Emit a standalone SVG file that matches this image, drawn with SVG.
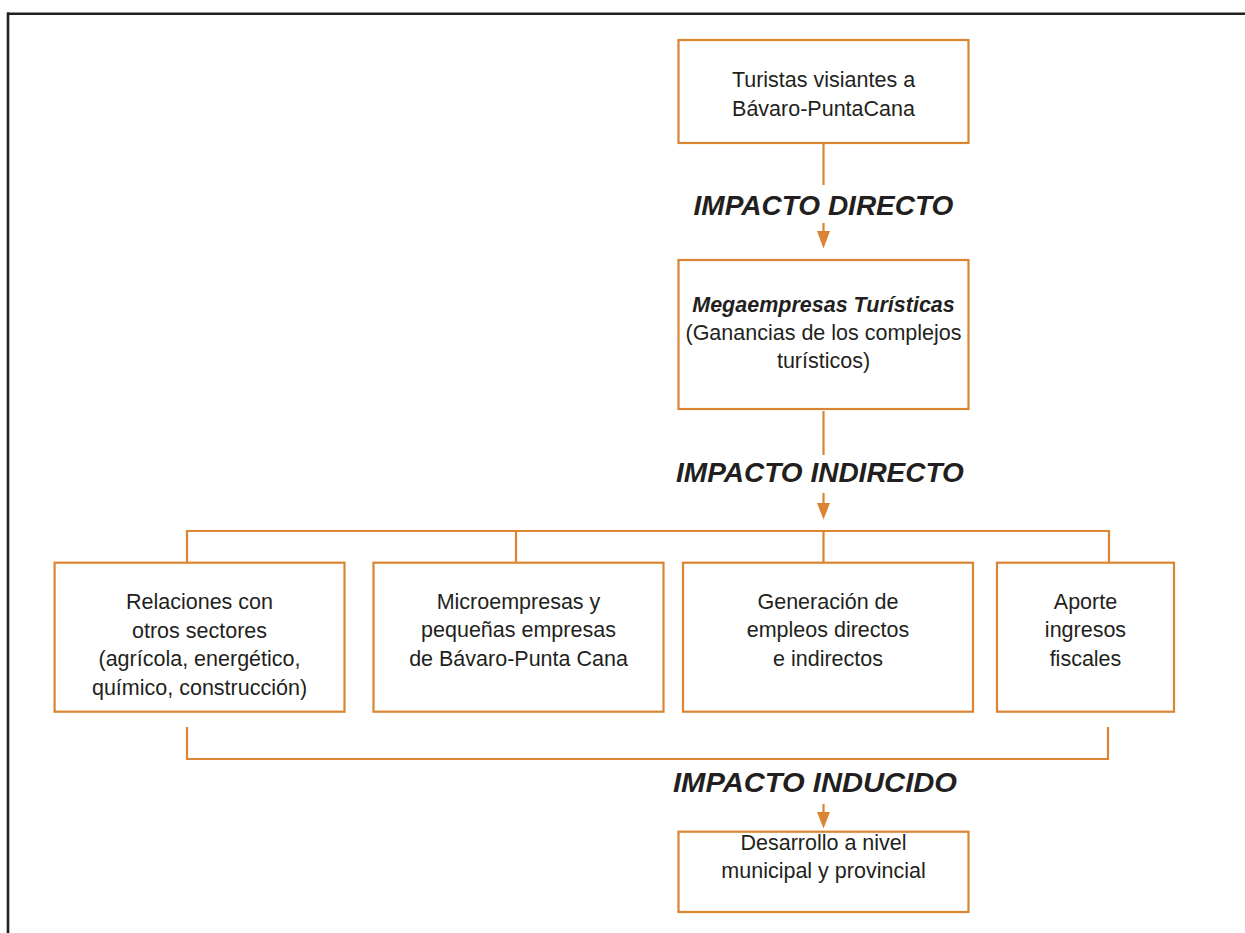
<svg xmlns="http://www.w3.org/2000/svg" width="1245" height="933" viewBox="0 0 1245 933">
<style>
.box{fill:#ffffff;stroke:#db8431;stroke-width:2.2}
.ln{fill:none;stroke:#db8431;stroke-width:2.2}
.t{font-family:"Liberation Sans",Arial,sans-serif;font-size:21.5px;fill:#231f20;text-anchor:middle}
.bi{font-weight:bold;font-style:italic}
.lab{font-family:"Liberation Sans",Arial,sans-serif;font-size:28px;font-weight:bold;font-style:italic;fill:#231f20;text-anchor:middle}
</style>
<g id="frame">
<line x1="7" y1="13.8" x2="1245" y2="13.8" stroke="#231f20" stroke-width="2.5"/>
<line x1="8" y1="12.5" x2="8" y2="933" stroke="#231f20" stroke-width="2.6"/>
</g>
<g id="connectors">
<line class="ln" x1="823.5" y1="143" x2="823.5" y2="185"/>
<line class="ln" x1="823.5" y1="223" x2="823.5" y2="232"/>
<path d="M817,231 L830,231 L823.5,248.5 Z" fill="#db8431"/>
<line class="ln" x1="823.5" y1="411" x2="823.5" y2="455"/>
<line class="ln" x1="823.5" y1="493" x2="823.5" y2="504"/>
<path d="M817,503 L830,503 L823.5,519.5 Z" fill="#db8431"/>
<path class="ln" d="M187,563 V531 H1109 V563 M516,531 V563 M823.5,531 V563"/>
<path class="ln" d="M187,727 V759 H1108 V727"/>
<line class="ln" x1="823.5" y1="804" x2="823.5" y2="813"/>
<path d="M817,812 L830,812 L823.5,828.5 Z" fill="#db8431"/>
</g>
<g id="labels">
<text class="lab" x="823.5" y="215">IMPACTO DIRECTO</text>
<text class="lab" x="820" y="481.5">IMPACTO INDIRECTO</text>
<text class="lab" x="815" y="791.5" textLength="284" lengthAdjust="spacingAndGlyphs">IMPACTO INDUCIDO</text>
</g>
<g id="n-turistas">
<rect class="box" x="678.5" y="40" width="290" height="103"/>
<text class="t" x="823.5" y="86.5">Turistas visiantes a</text>
<text class="t" x="823.5" y="116">Bávaro-PuntaCana</text>
</g>
<g id="n-mega">
<rect class="box" x="678.5" y="260" width="290" height="149"/>
<text class="t bi" x="823.5" y="311.5">Megaempresas Turísticas</text>
<text class="t" x="823.5" y="340">(Ganancias de los complejos</text>
<text class="t" x="823.5" y="368">turísticos)</text>
</g>
<g id="n-relaciones">
<rect class="box" x="54.6" y="562.7" width="289.9" height="149"/>
<text class="t" x="199.5" y="609">Relaciones con</text>
<text class="t" x="199.5" y="637.5">otros sectores</text>
<text class="t" x="199.5" y="666">(agrícola, energético,</text>
<text class="t" x="199.5" y="694.5">químico, construcción)</text>
</g>
<g id="n-micro">
<rect class="box" x="373.5" y="562.7" width="290" height="149"/>
<text class="t" x="518.5" y="608.5">Microempresas y</text>
<text class="t" x="518.5" y="637">pequeñas empresas</text>
<text class="t" x="518.5" y="665.5">de Bávaro-Punta Cana</text>
</g>
<g id="n-empleos">
<rect class="box" x="683" y="562.7" width="290" height="149"/>
<text class="t" x="828" y="608.5">Generación de</text>
<text class="t" x="828" y="637">empleos directos</text>
<text class="t" x="828" y="665.5">e indirectos</text>
</g>
<g id="n-fiscal">
<rect class="box" x="997" y="562.7" width="177" height="149"/>
<text class="t" x="1085.5" y="608.5">Aporte</text>
<text class="t" x="1085.5" y="637">ingresos</text>
<text class="t" x="1085.5" y="665.5">fiscales</text>
</g>
<g id="n-desarrollo">
<rect class="box" x="678.5" y="831.7" width="290" height="80.3"/>
<text class="t" x="823.5" y="850">Desarrollo a nivel</text>
<text class="t" x="823.5" y="878">municipal y provincial</text>
</g>
</svg>
